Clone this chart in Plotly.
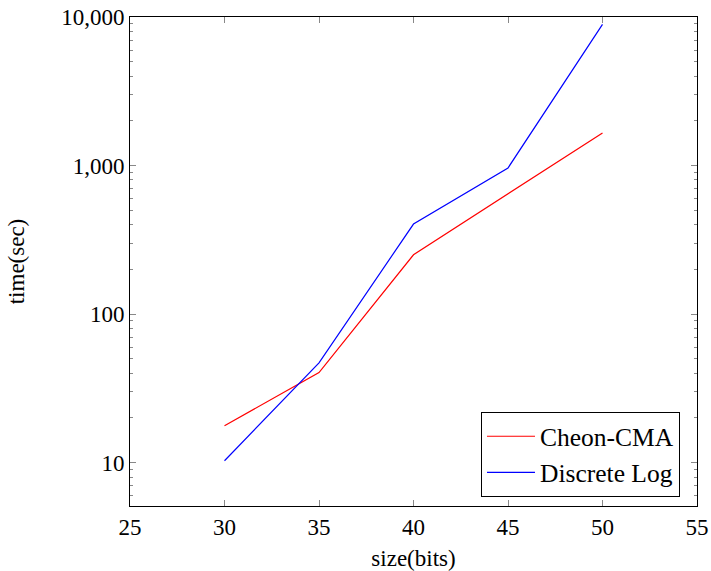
import plotly.graph_objects as go

size_cheon = [30, 35, 40, 50]
time_cheon = [17.7, 40.4, 251, 1660]
size_dlog = [30, 35, 40, 45, 50]
time_dlog = [10.3, 47, 404, 964, 8930]

x_ticks = [25, 30, 35, 40, 45, 50, 55]
y_ticks = [10, 100, 1000, 10000]
y_ticktext = ["10", "100", "1,000", "10,000"]
y_minor = [m * 10 ** e for e in range(0, 4) for m in range(2, 10)]

FONT = "Liberation Serif"
FS = 23

fig = go.Figure()
fig.add_trace(go.Scatter(x=size_cheon, y=time_cheon, mode="lines", name="Cheon-CMA",
                         line=dict(color="red", width=1.2)))
fig.add_trace(go.Scatter(x=size_dlog, y=time_dlog, mode="lines", name="Discrete Log",
                         line=dict(color="blue", width=1.2)))

fig.update_layout(
    width=711, height=571,
    margin=dict(l=130, r=14, t=17, b=65, autoexpand=False),
    paper_bgcolor="white", plot_bgcolor="white",
    font=dict(family=FONT, size=FS, color="black"),
    showlegend=True,
    legend=dict(x=0.97, y=0.018, xanchor="right", yanchor="bottom",
                bordercolor="black", borderwidth=1, bgcolor="white",
                itemwidth=48,
                font=dict(family=FONT, size=25.5), tracegroupgap=0),
    xaxis=dict(range=[25, 55], tickvals=x_ticks, ticks="inside", ticklen=6,
               tickcolor="#888", showline=True, linecolor="black", linewidth=1,
               mirror="ticks", showgrid=False, zeroline=False, automargin=False,
               title=dict(text="size(bits)", standoff=14, font=dict(family=FONT, size=FS))),
    yaxis=dict(type="log", range=[0.708, 4.0005], tickvals=y_ticks, ticktext=y_ticktext,
               ticks="inside", ticklen=6, tickcolor="#888", showline=True,
               linecolor="black", linewidth=1, mirror="ticks", showgrid=False,
               zeroline=False, automargin=False,
               minor=dict(tickvals=y_minor, ticks="inside", ticklen=3, tickcolor="#888",
                          showgrid=False),
               title=dict(text="time(sec)", standoff=30, font=dict(family=FONT, size=FS))),
)

fig.write_html("out.html", config={"displayModeBar": False},
               post_script="document.body.style.margin='0';document.body.style.overflow='hidden';")
